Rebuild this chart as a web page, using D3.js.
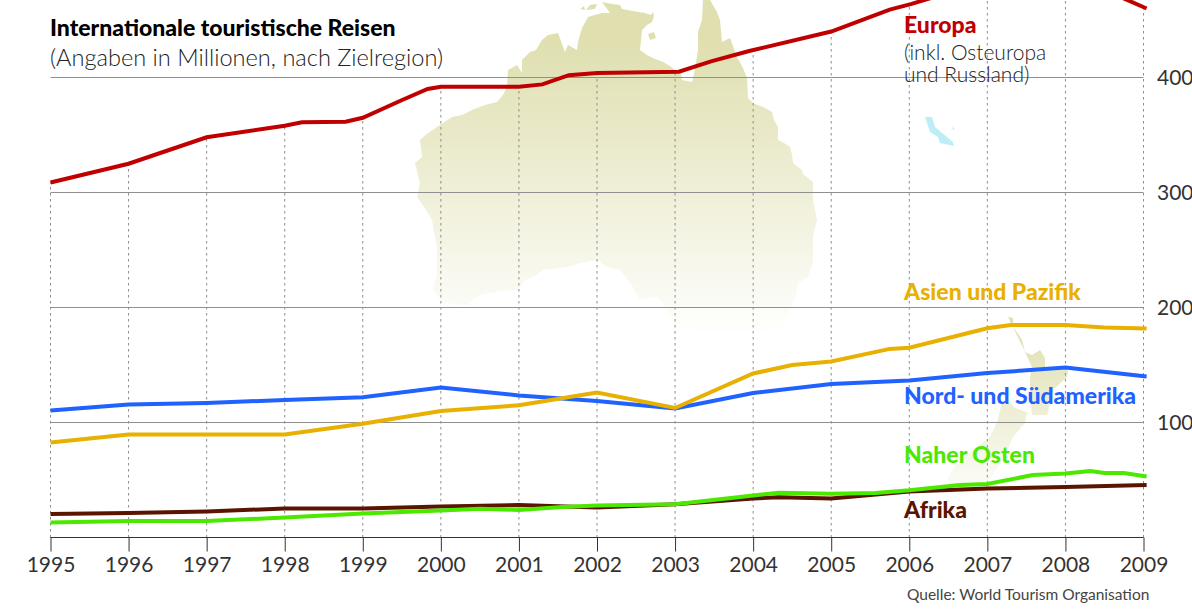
<!DOCTYPE html>
<html>
<head>
<meta charset="utf-8">
<script src="https://cdnjs.cloudflare.com/ajax/libs/d3/7.8.5/d3.min.js"></script>
<style>
  html, body { margin: 0; padding: 0; background: #fff; overflow: hidden; }
  text { font-family: Lato, sans-serif; }
  .domain { display: none; }
</style>
</head>
<body>
<div id="chart"></div>
<script>
// values, in millions. a line can bend between two years
var years = [1995, 1996, 1997, 1998, 1999, 2000, 2001, 2002, 2003, 2004, 2005, 2006, 2007, 2008, 2009];
var yTicks = [100, 200, 300, 400];

var europaYears = [1995, 1996, 1997, 1998, 1998.22, 1998.78, 1999, 1999.49, 1999.83, 2000, 2001, 2001.3, 2001.64, 2002, 2003.05, 2003.46, 2003.95, 2005, 2005.75, 2006.03, 2007, 2008, 2009.04];
var europaValues = [308.7, 325, 348, 358, 361, 361.5, 365, 380, 390, 392, 392, 394, 402, 404, 405, 414, 423, 440, 459, 464, 484, 491, 460];

var asienYears = [1995, 1996, 1998, 1999, 2000, 2001, 2002, 2003, 2004, 2004.5, 2005, 2005.75, 2006, 2007, 2007.3, 2008, 2008.5, 2009.04];
var asienValues = [82.6, 89.6, 89.6, 99, 110, 115, 126, 112.6, 142.6, 150, 153, 164, 165, 182, 184.8, 184.8, 182.6, 181.7];

var amerikaYears = [1995, 1996, 1997, 1998, 1999, 2000, 2001, 2002, 2003, 2004, 2005, 2006, 2007, 2008, 2009.04];
var amerikaValues = [110.4, 115.6, 117, 119.6, 122, 130.4, 123.5, 118.7, 112.2, 125.6, 133.5, 136.5, 143, 147.8, 140];

var ostenYears = [1995, 1996, 1997, 1998, 1999, 2000, 2000.5, 2001, 2001.55, 2002, 2003, 2004, 2004.33, 2005, 2005.57, 2006, 2006.65, 2007, 2007.58, 2008, 2008.32, 2008.5, 2008.75, 2009.04];
var ostenValues = [13, 14.3, 14.3, 17.4, 20.9, 23.5, 25, 24, 26.5, 27.8, 29, 36.5, 39, 38, 38.7, 41, 45.6, 46.5, 54.3, 55.6, 57.8, 56, 56, 53];

var afrikaYears = [1995, 1996, 1997, 1998, 1999, 2000, 2001, 2002, 2003, 2004, 2004.33, 2005, 2006, 2007, 2008, 2009.04];
var afrikaValues = [20.4, 21.3, 22.6, 25.2, 25.2, 27, 28.3, 26, 29, 34, 35, 34, 40, 42.6, 44, 45.6];

var x = d3.scaleLinear().domain([1995, 2009]).range([50.5, 1143.5]);
var y = d3.scaleLinear().domain([0, 400]).range([537.5, 77.5]);

var svg = d3.select('#chart').append('svg')
  .attr('width', 1192)
  .attr('height', 610)
  .style('display', 'block');

var defs = svg.append('defs');
function fade(id, y1, y2) {
  var g = defs.append('linearGradient')
    .attr('id', id)
    .attr('gradientUnits', 'userSpaceOnUse')
    .attr('x1', 0).attr('x2', 0)
    .attr('y1', y1).attr('y2', y2);
  g.append('stop').attr('offset', 0).attr('stop-color', '#dfdfb0');
  g.append('stop').attr('offset', 1).attr('stop-color', '#ffffff');
}
fade('fadeAustralien', 40, 338);
fade('fadeNeuseeland', 325, 505);

// the map behind the chart, traced by hand
var australien = 'M602,2 L612,4 L620,5 L622,9 L633,11 L645,13 L651,15 L653,12 L654,16 L652,22 L647,25 L642,30 L641,40 L640,50 L647,55 L653,58 L663,62 L670,66 L677,72 L681,72 L682,80 L692,82 L694,74 L698,50 L698,32 L702,20 L703,0 L710,0 L717,12 L720,20 L722,42 L730,38 L733,46 L737,57 L743,68 L747,78 L748,98 L753,103 L765,108 L772,112 L774,120 L778,127 L778,140 L784,143 L790,147 L792,155 L793,163 L802,170 L803,174 L813,182 L813,200 L817,220 L814,232 L813,237 L813,263 L808,277 L798,283 L796,295 L792,307 L783,327 L760,332 L677,330 L667,310 L657,297 L640,300 L634,290 L630,283 L624,275 L620,270 L607,267 L597,260 L580,263 L567,267 L543,270 L535,276 L525,280 L518,290 L500,291 L480,295 L467,305 L443,303 L433,290 L437,275 L437,247 L434,232 L432,220 L426,210 L417,197 L420,183 L415,163 L422,157 L420,140 L428,133 L440,125 L452,117 L462,115 L472,110 L485,105 L497,102 L503,95 L507,87 L508,70 L517,65 L522,73 L522,60 L530,52 L536,50 L542,40 L548,35 L558,33 L565,52 L568,45 L577,50 L578,42 L582,28 L588,17 L602,13 L610,13 Z ' +
  'M586,10 L590,5 L597,4 L595,9 Z M580,9 L584,6 L585,10 Z M648,34 L654,32 L656,38 L650,40 Z';
var neuseeland = 'M1008,317 L1013,318 L1013,327 L1018,334 L1022,340 L1025,352 L1032,355 L1040,350 L1045,358 L1045,368 L1068,370 L1067,377 L1053,390 L1051,400 L1047,415 L1032,415 L1030,395 L1030,377 L1032,367 L1025,352 L1013,327 Z ' +
  'M1002,403 L1010,403 L1015,408 L1027,412 L1025,423 L1013,437 L1003,460 L987,483 L960,497 L947,480 L957,462 L990,437 L997,422 Z';
var see = 'M925,117 L932,117 L935,127 L953,142 L954,146 L940,143 L938,137 L930,132 Z M952,126 L955,130 L953,130 Z';

svg.append('path').attr('d', australien).attr('fill', 'url(#fadeAustralien)');
svg.append('path').attr('d', neuseeland).attr('fill', 'url(#fadeNeuseeland)');
svg.append('path').attr('d', see).attr('fill', '#bdeef6');

// horizontal grid
svg.selectAll('.hgrid')
  .data(yTicks)
  .enter().append('line')
  .attr('class', 'hgrid')
  .attr('x1', x(1995))
  .attr('x2', x(2009))
  .attr('y1', function (d) { return y(d); })
  .attr('y2', function (d) { return y(d); })
  .attr('stroke', '#909090')
  .attr('stroke-width', 1);

// dotted year lines stop at the europa line
var europaAt = d3.scaleLinear().domain(europaYears).range(europaValues);
svg.selectAll('.vgrid')
  .data(years)
  .enter().append('line')
  .attr('class', 'vgrid')
  .attr('x1', function (d) { return x(d); })
  .attr('x2', function (d) { return x(d); })
  .attr('y1', y(0))
  .attr('y2', function (d) { return y(europaAt(d)); })
  .attr('stroke', '#8c8c8c')
  .attr('stroke-dasharray', '2.5,3.5');

// axes
var xAxis = d3.axisBottom(x)
  .tickValues(years)
  .tickFormat(d3.format('d'))
  .tickSize(14)
  .tickPadding(6);
var gx = svg.append('g').attr('transform', 'translate(0,' + y(0) + ')').call(xAxis);
gx.select('.domain').style('display', 'block').attr('stroke', '#333').attr('d', 'M' + x(1995) + ',0H' + x(2009));
gx.selectAll('.tick line').attr('stroke', '#333');
gx.selectAll('.tick text')
  .attr('fill', '#333')
  .style('font-size', '21px')
  .style('font-family', 'Lato, sans-serif');

var yAxis = d3.axisRight(y).tickValues(yTicks).tickSize(0).tickPadding(0);
var gy = svg.append('g').attr('transform', 'translate(1157,0)').call(yAxis);
gy.selectAll('.tick text')
  .attr('fill', '#333')
  .style('font-size', '21px')
  .style('font-family', 'Lato, sans-serif');

// lines, afrika at the bottom
var line = d3.line()
  .x(function (d) { return x(d[0]); })
  .y(function (d) { return y(d[1]); });

function drawLine(yrs, vals, color) {
  svg.append('path')
    .attr('d', line(d3.zip(yrs, vals)))
    .attr('fill', 'none')
    .attr('stroke', color)
    .attr('stroke-width', 4);
}
drawLine(afrikaYears, afrikaValues, '#5a1500');
drawLine(ostenYears, ostenValues, '#4be800');
drawLine(amerikaYears, amerikaValues, '#1f62ff');
drawLine(asienYears, asienValues, '#e8b000');
drawLine(europaYears, europaValues, '#c00000');

// labels
function label(px, py, txt, color, size, weight) {
  svg.append('text')
    .attr('x', px)
    .attr('y', py)
    .attr('fill', color)
    .style('font-size', size + 'px')
    .style('font-weight', weight)
    .text(txt);
}
label(50, 36, 'Internationale touristische Reisen', '#000', 23, 900);
label(50, 66, '(Angaben in Millionen, nach Zielregion)', '#222', 23.6, 300);
label(904, 33, 'Europa', '#c00000', 23, 900);
label(904, 60, '(inkl. Osteuropa', '#222', 21, 300);
label(904, 82, 'und Russland)', '#222', 21, 300);
label(904, 300, 'Asien und Pazifik', '#e8b000', 23, 900);
label(904, 404, 'Nord- und Südamerika', '#1f62ff', 23, 900);
label(904, 463, 'Naher Osten', '#4be800', 23, 900);
label(904, 518, 'Afrika', '#5a1500', 23, 900);
label(907, 600, 'Quelle: World Tourism Organisation', '#444', 15.5, 400);
</script>
</body>
</html>
